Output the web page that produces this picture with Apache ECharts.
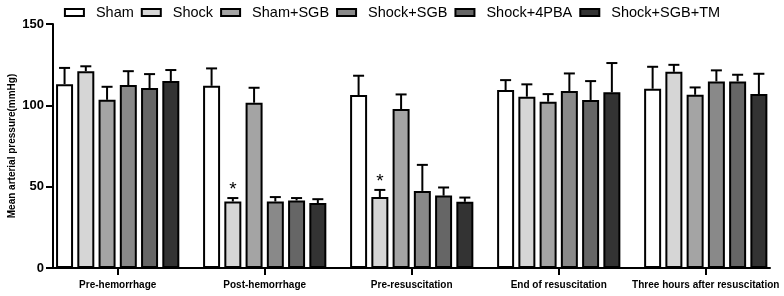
<!DOCTYPE html>
<html>
<head>
<meta charset="utf-8">
<script src="https://cdn.jsdelivr.net/npm/echarts@6/dist/echarts.min.js"></script>
<style>
  html, body { margin: 0; padding: 0; background: #fff; }
  #chart { width: 784px; height: 296px; }
</style>
</head>
<body>
<div id="chart"></div>
<script>
// Time points and groups
const timePoints = ['Pre-hemorrhage', 'Post-hemorrhage', 'Pre-resuscitation', 'End of resuscitation', 'Three hours after resuscitation'];
const groups = ['Sham', 'Shock', 'Sham+SGB', 'Shock+SGB', 'Shock+4PBA', 'Shock+SGB+TM'];
const groupColors = ['#ffffff', '#d6d6d6', '#a4a4a4', '#898989', '#666666', '#333333'];

// Mean values (mmHg), one array per group
const sham = [113, 112, 106.3, 109.4, 110.2];
const shock = [121, 40.9, 43.6, 105.3, 120.6];
const shamSGB = [103.4, 101.6, 97.7, 102.2, 106.5];
const shockSGB = [112.5, 40.9, 47.4, 108.8, 114.7];
const shock4PBA = [110.6, 41.5, 44.5, 103.3, 114.7];
const shockSGBTM = [115, 39.9, 40.7, 108, 106.9];

// Upper end of the error bars (mean + SD)
const shamErr = [123, 122.7, 118.2, 115.5, 123.7];
const shockErr = [124, 43, 48, 112.9, 124.9];
const shamSGBErr = [111.4, 110.8, 106.7, 106.9, 111];
const shockSGBErr = [121, 43.6, 63.4, 119.6, 121.5];
const shock4PBAErr = [119.2, 43, 49.5, 114.9, 118.8];
const shockSGBTMErr = [121.7, 42.3, 43.3, 126, 119.4];

// Significance marks on the Shock group
const shockSig = ['', '*', '*', '', ''];

const means = [sham, shock, shamSGB, shockSGB, shock4PBA, shockSGBTM];
const errTops = [shamErr, shockErr, shamSGBErr, shockSGBErr, shock4PBAErr, shockSGBTMErr];
const sigs = [null, shockSig, null, null, null, null];
const positions = timePoints.map((t, i) => i);

const BAR_W = 17;
const BAR_GAP = 0.25;
const n = groups.length;

function errorSeries(gi) {
  return {
    type: 'custom',
    z: 5,
    data: positions.map(i => [i, means[gi][i], errTops[gi][i]]),
    renderItem: function (params, api) {
      const groupW = n * BAR_W + (n - 1) * BAR_W * BAR_GAP;
      const off = -groupW / 2 + gi * BAR_W * (1 + BAR_GAP) + BAR_W / 2;
      const base = api.coord([api.value(0), api.value(1)]);
      const top = api.coord([api.value(0), api.value(2)]);
      const x = base[0] + off;
      const cap = 5.5;
      const children = [
        { type: 'line', shape: { x1: x, y1: base[1], x2: x, y2: top[1] }, style: { stroke: '#000', lineWidth: 2 } },
        { type: 'line', shape: { x1: x - cap, y1: top[1], x2: x + cap, y2: top[1] }, style: { stroke: '#000', lineWidth: 2 } }
      ];
      const s = sigs[gi] ? sigs[gi][params.dataIndex] : '';
      if (s) {
        children.push({
          type: 'text',
          style: { text: s, x: x, y: top[1] + 1, align: 'center', verticalAlign: 'bottom', fontSize: 19, fontFamily: 'Arial', fill: '#000' }
        });
      }
      return { type: 'group', children: children };
    }
  };
}

const chart = echarts.init(document.getElementById('chart'));

const barSeries = groups.map((g, gi) => ({
  name: g,
  type: 'bar',
  data: positions.map(i => [i, means[gi][i]]),
  barWidth: BAR_W,
  barGap: '25%',
  itemStyle: { color: groupColors[gi], borderColor: '#000', borderWidth: 2 }
}));

chart.setOption({
  animation: false,
  textStyle: { fontFamily: 'Arial, "Liberation Sans", sans-serif' },
  legend: {
    data: groups,
    top: 0,
    left: 'center',
    icon: 'rect',
    itemWidth: 19,
    itemHeight: 7,
    itemGap: 7,
    itemStyle: { borderColor: '#000', borderWidth: 2 },
    textStyle: { fontSize: 14.5, color: '#000', padding: [0, 0, 0, 7] }
  },
  grid: { left: 53, right: 14, top: 24, bottom: 28, containLabel: false, outerBoundsMode: 'none' },
  xAxis: {
    type: 'value',
    min: -0.44,
    max: 4.437,
    splitLine: { show: false },
    axisLine: { show: true, onZero: false, lineStyle: { color: '#000', width: 2 } },
    axisTick: { show: true, customValues: positions, length: 7, lineStyle: { color: '#000', width: 2 } },
    axisLabel: {
      customValues: positions,
      color: '#000', fontWeight: 'bold', fontSize: 10, margin: 12,
      formatter: v => timePoints[Math.round(v)]
    }
  },
  yAxis: {
    type: 'value',
    min: 0,
    max: 150,
    interval: 50,
    name: 'Mean arterial pressure(mmHg)',
    nameLocation: 'middle',
    nameRotate: 90,
    nameGap: 36,
    nameMoveOverlap: false,
    nameTextStyle: { color: '#000', fontWeight: 'bold', fontSize: 10 },
    axisLine: { show: true, onZero: false, lineStyle: { color: '#000', width: 2 } },
    axisTick: { show: true, length: 7, lineStyle: { color: '#000', width: 2 } },
    axisLabel: { color: '#000', fontWeight: 'bold', fontSize: 13, margin: 9 },
    splitLine: { show: false }
  },
  series: barSeries.concat(groups.map((g, gi) => errorSeries(gi)))
});
</script>
</body>
</html>
